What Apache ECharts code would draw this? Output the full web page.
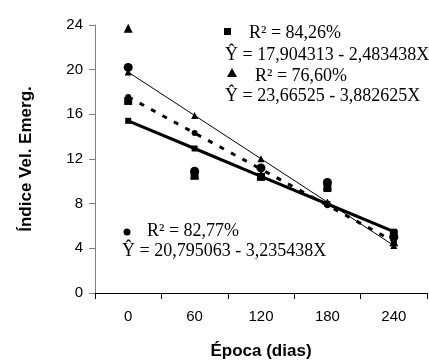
<!DOCTYPE html>
<html><head><meta charset="utf-8">
<script src="https://cdn.jsdelivr.net/npm/echarts@6/dist/echarts.min.js"></script>
<style>html,body{margin:0;padding:0;background:#fff}#c{width:429px;height:360px}</style>
</head><body><div id="c"></div>
<script>
const categories = ['0', '60', '120', '180', '240'];
const obsSquare = [17.2, 10.5, 10.4, 9.4, 5.3];
const obsCircle = [20.2, 10.9, 11.2, 9.9, 5.0];
const obsTriangle = [23.7, 10.6, 10.6, 9.6, 4.6];
const fitSquare = [15.42, 12.94, 10.45, 7.97, 5.49];
const fitTriangle = [19.78, 15.90, 12.02, 8.14, 4.25];
const fitCircle = [17.56, 14.32, 11.09, 7.85, 4.62];
const yMin = 0, yMax = 24, yStep = 4;
const eqSquare = ['R² = 84,26%', 'Ŷ = 17,904313 - 2,483438X'];
const eqTriangle = ['R² = 76,60%', 'Ŷ = 23,66525 - 3,882625X'];
const eqCircle = ['R² = 82,77%', 'Ŷ = 20,795063 - 3,235438X'];

const chart = echarts.init(document.getElementById('c'), null, {renderer: 'canvas'});
const serif = '"Liberation Serif", "Times New Roman", serif';
const txt = (x, y, s) => ({type: 'text', left: x, top: y, style: {text: s, font: '18px ' + serif, fill: '#000'}});
const solid = {color: '#000', opacity: 1};
chart.setOption({
  animation: false,
  backgroundColor: '#fff',
  grid: {left: 95, right: 2, top: 25, bottom: 67, containLabel: false, outerBoundsMode: 'none'},
  xAxis: {
    type: 'category', data: categories, boundaryGap: true,
    name: 'Época (dias)', nameLocation: 'middle', nameGap: 50,
    nameTextStyle: {fontFamily: 'Liberation Sans', fontWeight: 'bold', fontSize: 17, color: '#000'},
    axisLine: {lineStyle: {color: '#000', width: 1}},
    axisTick: {show: true, alignWithLabel: false, length: 6, lineStyle: {color: '#000'}},
    axisLabel: {fontFamily: 'Liberation Sans', fontSize: 15, color: '#000', margin: 16},
    splitLine: {show: false}
  },
  yAxis: {
    type: 'value', min: yMin, max: yMax, interval: yStep,
    name: 'Índice Vel. Emerg.', nameLocation: 'middle', nameGap: 60,
    nameTextStyle: {fontFamily: 'Liberation Sans', fontWeight: 'bold', fontSize: 17, color: '#000'},
    axisLine: {show: true, lineStyle: {color: '#808080', width: 1}},
    axisTick: {show: true, length: 6, lineStyle: {color: '#808080'}},
    axisLabel: {fontFamily: 'Liberation Sans', fontSize: 15, color: '#000', margin: 12},
    splitLine: {show: false}
  },
  series: [
    {type: 'line', data: fitTriangle, symbol: 'triangle', symbolSize: 7, showSymbol: true,
     lineStyle: {color: '#000', width: 1}, itemStyle: solid, z: 3},
    {type: 'line', data: fitCircle, symbol: 'circle', symbolSize: 6,
     lineStyle: {color: '#000', width: 3, type: [5, 8]}, itemStyle: solid, z: 3},
    {type: 'line', data: fitSquare, symbol: 'rect', symbolSize: 6,
     lineStyle: {color: '#000', width: 3}, itemStyle: solid, z: 3},
    {type: 'scatter', data: obsSquare, symbol: 'rect', symbolSize: 8, itemStyle: solid, z: 4},
    {type: 'scatter', data: obsTriangle, symbol: 'triangle', symbolSize: 9, itemStyle: solid, z: 4},
    {type: 'scatter', data: obsCircle, symbol: 'circle', symbolSize: 9, itemStyle: solid, z: 4}
  ],
  graphic: [
    {type: 'rect', shape: {x: 224, y: 28, width: 7, height: 7}, style: {fill: '#000'}},
    txt(249, 24, eqSquare[0]),
    txt(225, 46, eqSquare[1]),
    {type: 'polygon', shape: {points: [[232, 68], [227, 77], [237, 77]]}, style: {fill: '#000'}},
    txt(255, 67, eqTriangle[0]),
    txt(225, 87, eqTriangle[1]),
    {type: 'circle', shape: {cx: 127, cy: 232, r: 3.5}, style: {fill: '#000'}},
    txt(147, 222, eqCircle[0]),
    txt(122, 242, eqCircle[1])
  ]
});
</script></body></html>
